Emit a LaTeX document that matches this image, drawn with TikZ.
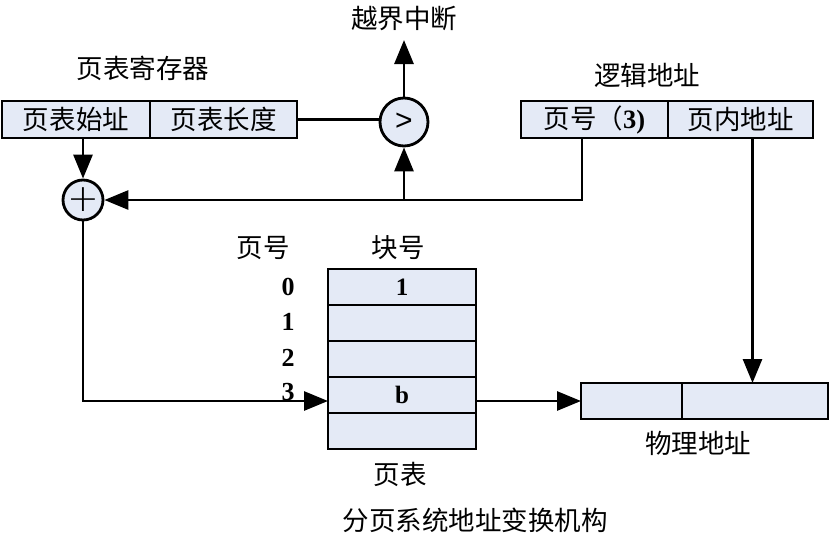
\documentclass[tikz,border=0pt]{standalone}
\usepackage{fontspec}
\setmainfont{Liberation Serif}
\newfontfamily\cjk{Noto Sans CJK SC}
\usetikzlibrary{arrows.meta,positioning,shapes}
\definecolor{cellblue}{RGB}{228,234,246}

\begin{document}
\begin{tikzpicture}
[x=1pt, y=-1pt, line width=2.8pt,
 cell/.style={rectangle, draw, fill=cellblue, inner sep=0pt, outer sep=0pt, minimum height=37pt, font=\cjk\fontsize{26.5}{28}\selectfont},
 row/.style={rectangle, draw, fill=cellblue, inner sep=0pt, outer sep=0pt, minimum width=148pt, minimum height=36pt, font=\bfseries\fontsize{25}{26}\selectfont},
 unit/.style={circle, draw, fill=cellblue, inner sep=0pt},
 caption/.style={font=\cjk\fontsize{26.5}{28}\selectfont},
 num/.style={font=\bfseries\fontsize{26}{26}\selectfont},
 link/.style={-{Triangle[length=24pt,width=19pt]}}]
    \useasboundingbox (0,0) rectangle (832,544);
    % page table register
    \node[cell, minimum width=148pt, anchor=north west](base) at (2,101) {页表始址};
    \node[cell, minimum width=147pt](len) [right=0pt of base] {页表长度};
    \node[caption](regname) at (143,68) {页表寄存器};
    % logical address
    \node[cell, minimum width=147pt, anchor=north west](pnum) at (521,101) {页号（\textbf{\fontspec{Liberation Serif}3)}};
    \node[cell, minimum width=145pt](poff) [right=0pt of pnum] {页内地址};
    \node[caption](logname) at (647,75) {逻辑地址};
    % comparator and adder
    \node[unit, minimum size=48pt, font=\fontspec{Liberation Sans}\fontsize{30}{30}\selectfont](cmp) at (404,122) {>};
    \node[caption](over) at (404,18) {越界中断};
    \node[unit, minimum size=40pt, font=\fontspec{DejaVu Sans ExtraLight}\fontsize{38}{38}\selectfont](plus) at (83,200) {+};
    % page table
    \node[row, anchor=north west](row0) at (328,269) {1};
    \node[row](row1) [below=0pt of row0] {};
    \node[row](row2) [below=0pt of row1] {};
    \node[row](row3) [below=0pt of row2] {b};
    \node[row](row4) [below=0pt of row3] {};
    \node[caption](pagehead) at (263,248) {页号};
    \node[caption](blockhead) at (398,248) {块号};
    \node[caption](tabname) at (400,474) {页表};
    \node[num](n0) at (288,287) {0};
    \node[num](n1) at (288,322) {1};
    \node[num](n2) at (288,358) {2};
    \node[num](n3) at (288,392) {3};
    % physical address
    \node[cell, minimum width=101pt, minimum height=36pt, anchor=north west](phya) at (581,383) {};
    \node[cell, minimum width=146pt, minimum height=36pt](phyb) [right=0pt of phya] {};
    \node[caption](phyname) at (698,443) {物理地址};
    \node[caption](title) at (475,520) {分页系统地址变换机构};
    % connectors
    \coordinate (pbranch) at (582,200);
    \coordinate (cbranch) at (cmp |- plus);
    \draw[link] (plus |- base.south) -- (plus);
    \draw[link] (pnum.south -| pbranch) -- (pbranch) -- (plus);
    \draw[link] (cbranch) -- (cmp);
    \draw (len.east) -- (len.east -| cmp.west);
    \draw[link, shorten >=5pt] (cmp) -- (over);
    \draw[link] ([xshift=12pt]poff.south) -- ([xshift=12pt]poff.south |- phyb.north);
    \draw[link] (plus) |- ([yshift=-6pt]row3.west);
    \draw[link] ([yshift=-6pt]row3.east) -- (phya.west);
\end{tikzpicture}
\end{document}
